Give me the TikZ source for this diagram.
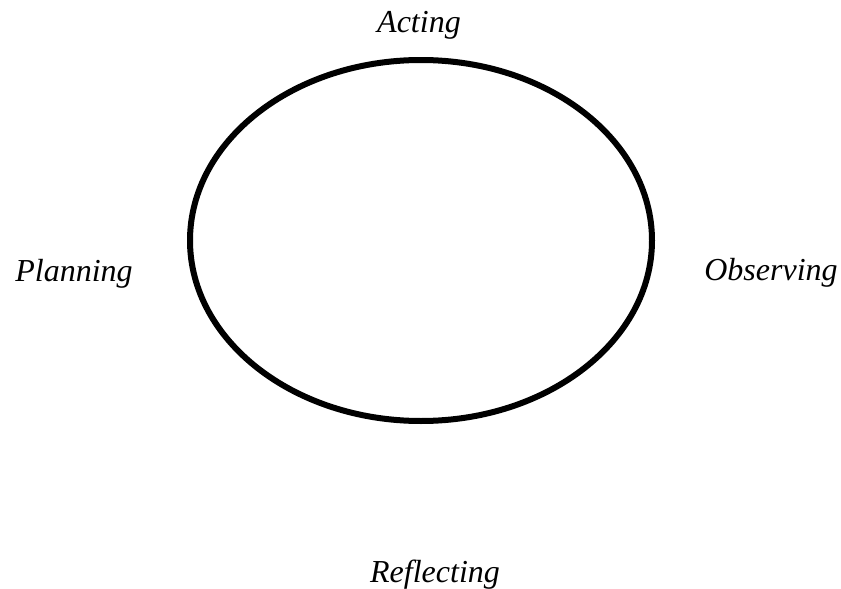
\documentclass[tikz,border=0pt]{standalone}
\usepackage{fontspec}
\setmainfont{Liberation Serif}
\usetikzlibrary{positioning}
\tikzset{
  phase label/.style={
    font=\fontsize{32}{37}\selectfont\itshape,
    anchor=base, inner sep=0pt,
  },
  cycle line/.style={
    line width=6pt, color=black,
  },
}
\begin{document}
\begin{tikzpicture}[x=1pt, y=-1pt]
\useasboundingbox (0,0) rectangle (841,589);

% The cycle
\draw[cycle line] (421,240.5) ellipse (231 and 180.5);

% Phase labels
\node[phase label] (acting) at (419,32) {Acting};
\node[phase label] (observing) at (771,280) {Observing};
\node[phase label] (reflecting) at (435,582) {Reflecting};
\node[phase label] (planning) at (74,281) {Planning};

\end{tikzpicture}
\end{document}
